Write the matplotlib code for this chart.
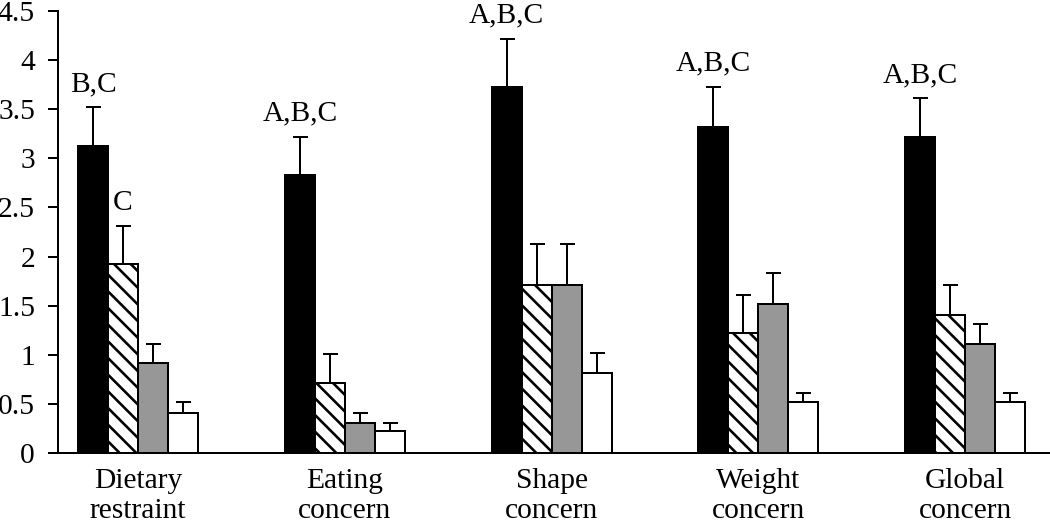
import numpy as np
import matplotlib.pyplot as plt

DPI = 100
PT = 72.0 / DPI  # points per pixel

plt.rcParams['font.family'] = ['Liberation Serif', 'DejaVu Serif']
plt.rcParams['hatch.linewidth'] = 2.6 * PT

CATEGORIES = ["Dietary\nrestraint", "Eating\nconcern", "Shape\nconcern", "Weight\nconcern", "Global\nconcern"]

# four groups, values and upper SE
MEANS = [
    [3.13, 2.83, 3.73, 3.32, 3.22],
    [1.92, 0.71, 1.71, 1.22, 1.41],
    [0.92, 0.31, 1.71, 1.52, 1.11],
    [0.41, 0.22, 0.81, 0.52, 0.52],
]
ERRS = [
    [0.39, 0.39, 0.49, 0.41, 0.39],
    [0.39, 0.30, 0.42, 0.39, 0.30],
    [0.19, 0.10, 0.42, 0.31, 0.20],
    [0.11, 0.09, 0.21, 0.09, 0.09],
]
COLORS = ["black", "white", "#979797", "white"]
HATCHES = [None, "\\\\", None, None]

# significance letters: (group, category, text)
LETTERS = [
    (0, 0, "B,C"),
    (1, 0, "C"),
    (0, 1, "A,B,C"),
    (0, 2, "A,B,C"),
    (0, 3, "A,B,C"),
    (0, 4, "A,B,C"),
]

FS = 29.5 * PT

fig = plt.figure(figsize=(1050 / DPI, 523 / DPI), dpi=DPI)
ax = fig.add_axes([58 / 1050, 1 - 453 / 523, 1 - 58 / 1050, (453 - 11) / 523])

x = np.arange(len(CATEGORIES))
w = 0.145
offsets = (np.arange(4) - 1.5) * w

for g in range(4):
    ax.bar(x + offsets[g], MEANS[g], width=w, color=COLORS[g], edgecolor="black",
           linewidth=2 * PT, hatch=HATCHES[g], zorder=2)
    ax.errorbar(x + offsets[g], MEANS[g],
                yerr=[np.zeros(len(x)), ERRS[g]],
                fmt="none", ecolor="black", elinewidth=2 * PT, capsize=7.5 * PT,
                capthick=2 * PT, zorder=1)

for g, c, txt in LETTERS:
    top = MEANS[g][c] + ERRS[g][c]
    ax.annotate(txt, (x[c] + offsets[g], top), xytext=(0, 16 * PT),
                textcoords="offset points", ha="center", va="baseline", fontsize=FS)

ax.set_xlim(-0.387, 4.41)
ax.set_ylim(0, 4.5)
ax.set_yticks(np.arange(0, 4.51, 0.5))
ax.set_yticklabels(["0", "0.5", "1", "1.5", "2", "2.5", "3", "3.5", "4", "4.5"])
ax.set_xticks(x)
ax.set_xticklabels(CATEGORIES, fontsize=FS, linespacing=1.2)

ax.spines["top"].set_visible(False)
ax.spines["right"].set_visible(False)
ax.spines["left"].set_linewidth(2 * PT)
ax.spines["bottom"].set_linewidth(2 * PT)
ax.tick_params(axis="y", direction="out", length=10 * PT, width=2 * PT,
               labelsize=FS, pad=13 * PT)
ax.tick_params(axis="x", length=0, pad=15 * PT)

fig.savefig("out.png", dpi=DPI)
